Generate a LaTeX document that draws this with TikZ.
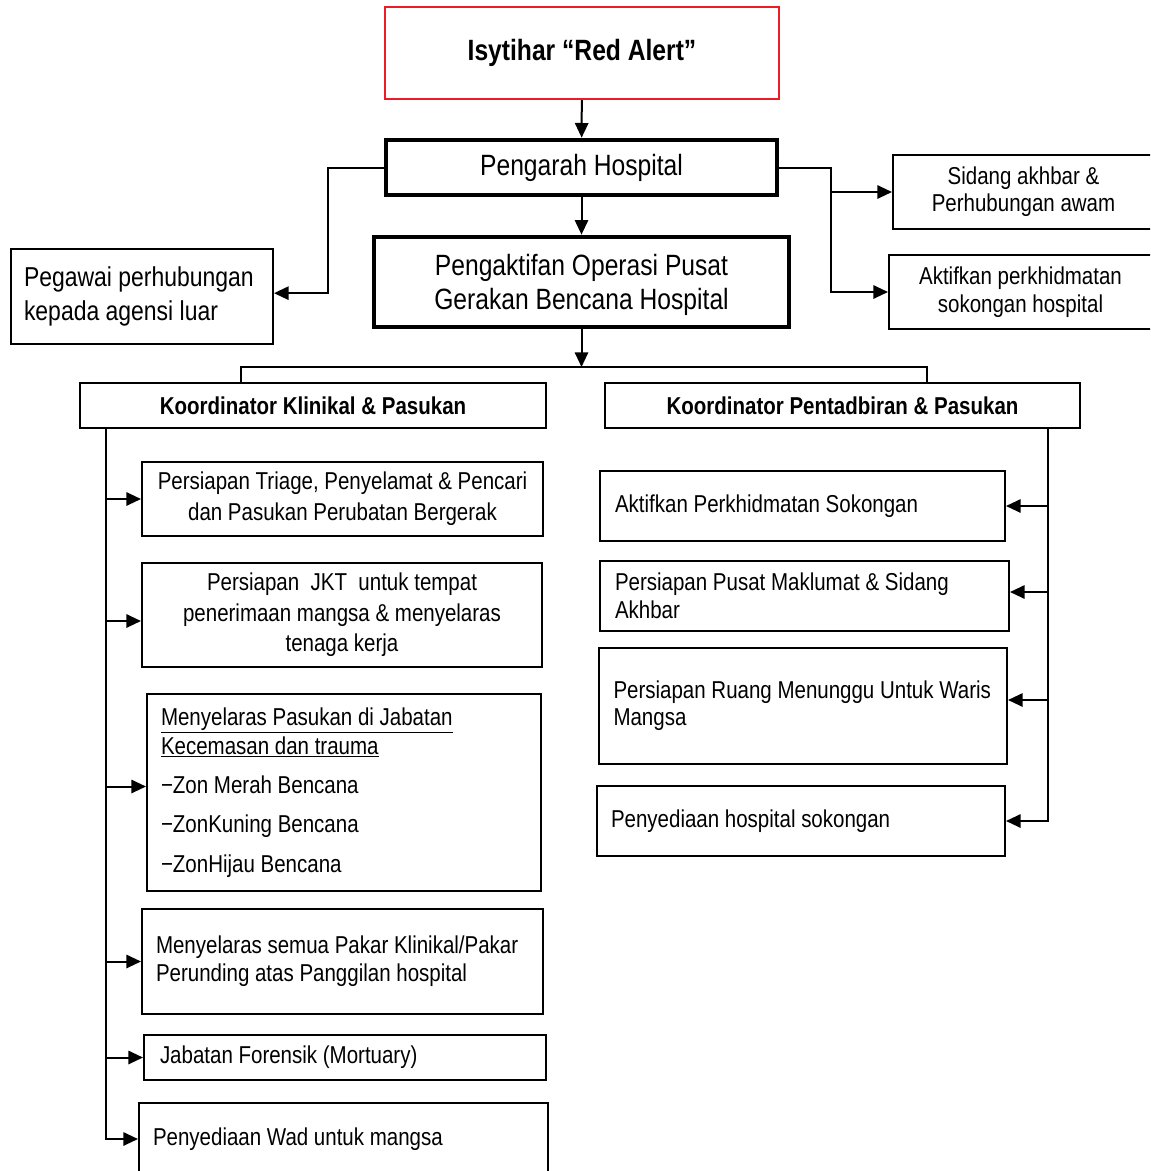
\documentclass[tikz,border=0pt]{standalone}
\usepackage{fontspec}
\setmainfont{Liberation Sans}[FakeStretch=0.84]
\usetikzlibrary{arrows.meta}
\definecolor{alertred}{RGB}{237,28,36}
\newcommand\padline[2]{\makebox[#1][l]{#2}}
\begin{document}
\begin{tikzpicture}[x=0.75pt,y=-0.75pt,
  boxat/.style args={#1/#2/#3/#4}{at={({(#1+#3)/2},{(#2+#4)/2})},minimum width={(#3-#1)*0.75pt},minimum height={(#4-#2)*0.75pt}},
  box/.style={draw=black,line width=1.5pt,inner sep=0pt,font=\fontsize{18.3}{23}\selectfont},
  cbox/.style={box,align=center},
  lbox/.style={box,align=left},
  heavybox/.style={cbox,line width=3.5pt,font=\fontsize{22}{25.5}\selectfont},
  alertbox/.style={cbox,draw=alertred,line width=1.5pt,font=\bfseries\fontsize{22}{25.5}\selectfont},
  headbox/.style={cbox,font=\bfseries\fontsize{18.3}{22}\selectfont},
  conn/.style={line width=1.5pt},
  arr/.style={conn,-{Triangle[length=11pt,width=10pt]}},
]
\useasboundingbox (0,0) rectangle (1150,1171);
\clip (0,0) rectangle (1150,1171);

% top part
\node[alertbox,boxat=385/7/779/99] (alert) {Isytihar “Red Alert”};
\node[heavybox,boxat=386/140/777/195] (director) {Pengarah Hospital};
\node[heavybox,boxat=374/237/789/327,text depth=0pt] (eoc) {Pengaktifan Operasi Pusat\\Gerakan Bencana Hospital};
\node[lbox,font=\fontsize{20.5}{26}\selectfont,boxat=11/249/273/344] (liaison) {\padline{177pt}{Pegawai perhubungan}\\kepada agensi luar};
\node[cbox,font=\fontsize{18.3}{20.5}\selectfont,boxat=893/155/1154/229] (press) {Sidang akhbar \&\\Perhubungan awam};
\node[cbox,font=\fontsize{18.3}{21}\selectfont,boxat=889/255/1152/329] (support) {Aktifkan perkhidmatan\\sokongan hospital};

% coordinators
\node[headbox,boxat=80/383/546/428] (clin) {Koordinator Klinikal \& Pasukan};
\node[headbox,boxat=605/383/1080/428] (admin) {Koordinator Pentadbiran \& Pasukan};

% clinical branch
\node[cbox,boxat=142/462/543/536] (triage) {Persiapan Triage, Penyelamat \& Pencari\\dan Pasukan Perubatan Bergerak};
\node[cbox,boxat=142/563/542/667] (jkt) {Persiapan~ JKT~ untuk tempat\\penerimaan mangsa \& menyelaras\\tenaga kerja};
\node[lbox,font=\fontsize{18.3}{21.75}\selectfont,boxat=147/694/541/891] (zones) {\padline{274.5pt}{\underline{Menyelaras Pasukan di Jabatan}}\\\underline{Kecemasan dan trauma}\\[7.5pt]−Zon Merah Bencana\\[8pt]−ZonKuning Bencana\\[8pt]−ZonHijau Bencana};
\node[lbox,font=\fontsize{18.3}{21}\selectfont,boxat=142/909/543/1014] (experts) {\padline{279.75pt}{Menyelaras semua Pakar Klinikal/Pakar}\\Perunding atas Panggilan hospital};
\node[lbox,boxat=144/1035/546/1080] (forensic) {\padline{277.5pt}{Jabatan Forensik (Mortuary)}};
\node[lbox,boxat=139/1103/548/1175] (ward) {\padline{285.75pt}{Penyediaan Wad untuk mangsa}};

% admin branch
\node[lbox,boxat=600/471/1005/541] (services) {\padline{281.25pt}{Aktifkan Perkhidmatan Sokongan}};
\node[lbox,font=\fontsize{18.3}{21}\selectfont,boxat=600/561/1009/631] (info) {\padline{284.25pt}{Persiapan Pusat Maklumat \& Sidang}\\Akhbar};
\node[lbox,font=\fontsize{18.3}{20.25}\selectfont,boxat=599/648/1007/764] (waiting) {\padline{284.25pt}{Persiapan Ruang Menunggu Untuk Waris}\\Mangsa};
\node[lbox,boxat=597/786/1005/856] (backup) {\padline{285pt}{Penyediaan hospital sokongan}};

% arrow entry points (slightly off-centre, as in the reference)
\coordinate (liaisonin) at ([yshift=2.5pt]liaison.east);
\coordinate (jktin) at ([yshift=-4.5pt]jkt.west);
\coordinate (zonesin) at ([yshift=4.5pt]zones.west);
\coordinate (infoin) at ([yshift=3pt]info.east);
\coordinate (waitingin) at ([yshift=4.5pt]waiting.east);

% connectors top
\draw[arr] (alert) -- (director);
\draw[arr] (director) -- (eoc);
\draw[arr] (director.west) -- ++(-56,0) |- (liaisonin);
\draw[arr] (director.east) -- ++(52,0) coordinate (rj) |- (support.west);
\draw[arr] (rj |- press.west) -- (press.west);

% bar to coordinators
\coordinate (barmid) at (581.5,367);
\coordinate (barL) at (241,367);
\coordinate (barR) at (927,367);
\draw[arr] (eoc.south) -- (barmid);
\draw[conn] (barL |- clin.north) -- (barL) -- (barR) -- (barR |- admin.north);

% left spine
\coordinate (spL) at (106,430);
\draw[arr] (spL |- clin.south) |- (ward.west);
\draw[arr] (spL |- triage.west) -- (triage.west);
\draw[arr] (spL |- jktin) -- (jktin);
\draw[arr] (spL |- zonesin) -- (zonesin);
\draw[arr] (spL |- experts.west) -- (experts.west);
\draw[arr] (spL |- forensic.west) -- (forensic.west);

% right spine
\coordinate (spR) at (1048,430);
\draw[arr] (spR |- admin.south) |- (backup.east);
\draw[arr] (spR |- services.east) -- (services.east);
\draw[arr] (spR |- infoin) -- (infoin);
\draw[arr] (spR |- waitingin) -- (waitingin);
\end{tikzpicture}
\end{document}
